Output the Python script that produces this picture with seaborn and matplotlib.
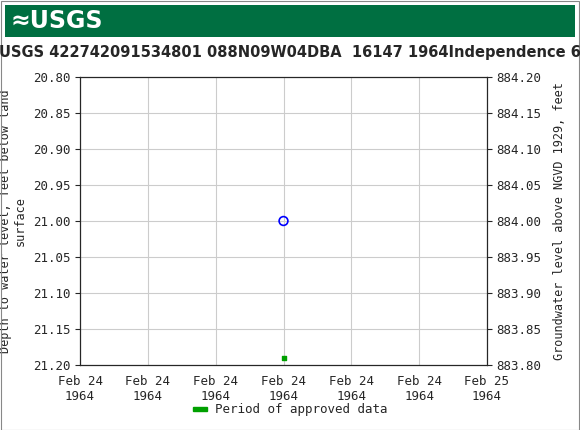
import pandas as pd
import matplotlib.pyplot as plt
import seaborn as sns

# data
dates = pd.to_datetime(["1964-02-24 12:00"])
depth = [21.00]
approved_depth = [21.19]
tick_dates = pd.date_range("1964-02-24 00:00", "1964-02-25 00:00", freq="4h")
tick_labels = ["Feb 24\n1964"] * 6 + ["Feb 25\n1964"]

sns.set_style("white")
plt.rcParams["font.family"] = ["DejaVu Sans Mono"]

fig = plt.figure(figsize=(5.8, 4.3), dpi=100)
fig.patches.append(plt.Rectangle((0.001, 0.001), 0.997, 0.997, fill=False,
                                 edgecolor="#888888", linewidth=0.8,
                                 transform=fig.transFigure))

# USGS header bar
hdr = fig.add_axes([5/580, 1 - 37/430, 570/580, 32/430])
hdr.set_facecolor("#006f41")
hdr.set_xticks([]); hdr.set_yticks([])
for s in hdr.spines.values():
    s.set_visible(False)
hdr.text(0.01, 0.5, "≈USGS", color="white", fontsize=17, fontweight="bold",
         va="center", ha="left", family="DejaVu Sans", transform=hdr.transAxes)

ax = fig.add_axes([80/580, 1 - 365/430, 407/580, 288/430])
df = pd.DataFrame({"date": dates, "depth": depth})
sns.scatterplot(data=df, x="date", y="depth", ax=ax, marker="o", s=40,
                facecolors="none", edgecolor="#0000ff", linewidth=1.2)
ax.scatter(dates, approved_depth, marker="s", s=8, color="#00a000", zorder=3)

ax.set_xlim(tick_dates[0], tick_dates[-1])
ax.set_ylim(21.20, 20.80)
ax.set_xticks(tick_dates)
ax.set_xticklabels(tick_labels)
yt = [20.80 + 0.05 * i for i in range(9)]
ax.set_yticks(yt)
ax.set_yticklabels([f"{v:.2f}" for v in yt])
ax.grid(True, color="#cccccc", linewidth=0.8)
ax.tick_params(labelsize=9)
for s in ax.spines.values():
    s.set_color("black")
ax.set_xlabel("")
ax.set_ylabel("Depth to water level, feet below land\nsurface", fontsize=8.5,
              labelpad=4)

ax2 = ax.twinx()
ax2.set_ylim(883.80, 884.20)
yt2 = [883.80 + 0.05 * i for i in range(9)]
ax2.set_yticks(yt2)
ax2.set_yticklabels([f"{v:.2f}" for v in yt2])
ax2.tick_params(labelsize=9)
ax2.set_ylabel("Groundwater level above NGVD 1929, feet", fontsize=8.5, labelpad=8)

fig.text(0.5, 1 - 53/430, "USGS 422742091534801 088N09W04DBA  16147 1964Independence 6",
         ha="center", va="center", fontsize=10.5, fontweight="bold", family="DejaVu Sans")

fig.patches.append(plt.Rectangle((193/580, 1 - 411/430), 14/580, 4/430,
                                 color="#00a000", transform=fig.transFigure))
fig.text(215/580, 1 - 410/430, "Period of approved data", fontsize=9, va="center")

fig.savefig("out.png", dpi=100)
